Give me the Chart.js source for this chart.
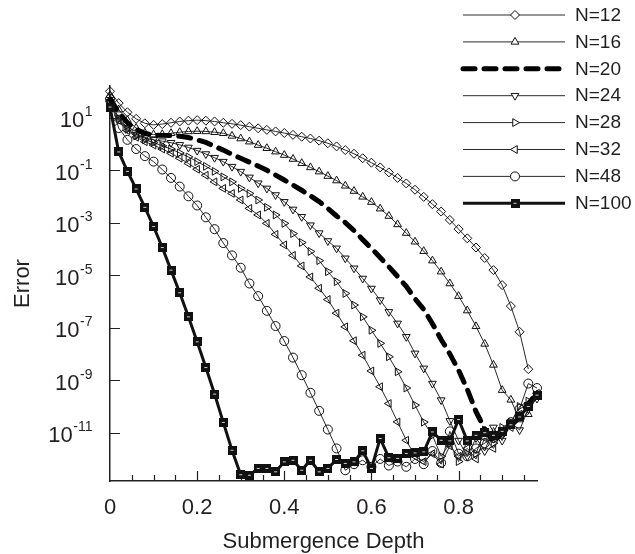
<!DOCTYPE html>
<html><head><meta charset="utf-8">
<script src="https://cdn.jsdelivr.net/npm/chart.js@4.4.1/dist/chart.umd.min.js"></script>
<style>html,body{margin:0;padding:0;background:#fff;}#wrap{width:635px;height:554px;}</style>
</head><body><div id="wrap"><canvas id="c" width="635" height="554"></canvas></div>
<script>
// Submergence depth (x) sample positions
const depth = [0,0.02,0.04,0.06,0.08,0.1,0.12,0.14,0.16,0.18,0.2,0.22,0.24,0.26,0.28,0.3,0.32,0.34,0.36,0.38,0.4,0.42,0.44,0.46,0.48,0.5,0.52,0.54,0.56,0.58,0.6,0.62,0.64,0.66,0.68,0.7,0.72,0.74,0.76,0.78,0.8,0.82,0.84,0.86,0.88,0.9,0.92,0.94,0.96,0.98];
// log10(Error) for each series
const logErrN12 = [2.0,1.55,1.2,0.95,0.78,0.72,0.75,0.8,0.85,0.88,0.9,0.88,0.85,0.8,0.76,0.71,0.65,0.59,0.53,0.47,0.41,0.34,0.27,0.2,0.12,0.02,-0.1,-0.24,-0.38,-0.55,-0.72,-0.9,-1.09,-1.3,-1.51,-1.75,-2.02,-2.3,-2.58,-2.9,-3.25,-3.6,-3.95,-4.35,-4.81,-5.38,-6.18,-7.16,-8.58];
const logErrN16 = [1.85,1.3,0.9,0.6,0.42,0.35,0.36,0.4,0.44,0.47,0.48,0.47,0.44,0.4,0.3,0.2,0.08,-0.05,-0.17,-0.3,-0.43,-0.58,-0.74,-0.9,-1.06,-1.23,-1.4,-1.6,-1.8,-2.02,-2.22,-2.47,-2.75,-3.07,-3.4,-3.73,-4.09,-4.45,-4.87,-5.32,-5.8,-6.35,-6.95,-7.62,-8.42,-9.38,-9.75,-10.5,-10.3,-9.55];
const logErrN20 = [1.7,1.2,0.8,0.55,0.4,0.33,0.32,0.31,0.29,0.24,0.15,0.05,-0.1,-0.24,-0.4,-0.55,-0.7,-0.85,-1.01,-1.19,-1.38,-1.57,-1.77,-1.98,-2.2,-2.46,-2.75,-3.0,-3.3,-3.65,-3.98,-4.33,-4.68,-5.05,-5.43,-5.9,-6.3,-6.85,-7.45,-8.0,-8.62,-9.35,-10.2,-10.85,-11.35,-11.0,-10.75,-10.4,-9.9,-9.5];
const logErrN24 = [1.6,1.0,0.6,0.35,0.22,0.15,0.1,0.04,-0.04,-0.14,-0.26,-0.39,-0.53,-0.68,-0.87,-1.06,-1.28,-1.5,-1.7,-1.95,-2.21,-2.5,-2.78,-3.1,-3.4,-3.7,-3.98,-4.36,-4.74,-5.13,-5.51,-5.95,-6.4,-6.84,-7.35,-7.98,-8.55,-9.13,-9.76,-10.55,-11.3,-11.9,-11.2,-11.7,-10.8,-11.3,-10.6,-10.9,-10.1,-9.7];
const logErrN28 = [1.5,0.95,0.55,0.3,0.15,0.05,-0.08,-0.2,-0.35,-0.5,-0.68,-0.86,-1.05,-1.26,-1.45,-1.7,-1.89,-2.14,-2.42,-2.71,-3.03,-3.42,-3.76,-4.1,-4.45,-4.87,-5.25,-5.7,-6.14,-6.59,-7.1,-7.6,-8.11,-8.68,-9.3,-9.95,-10.6,-11.1,-11.9,-11.4,-12.1,-11.3,-11.8,-10.9,-11.4,-10.8,-10.6,-10.0,-9.8,-9.6];
const logErrN32 = [1.6,0.9,0.5,0.25,0.08,-0.05,-0.2,-0.36,-0.55,-0.75,-0.97,-1.2,-1.45,-1.7,-1.89,-2.14,-2.46,-2.71,-3.03,-3.45,-3.85,-4.25,-4.65,-5.07,-5.5,-5.93,-6.45,-6.97,-7.5,-8.05,-8.65,-9.25,-9.89,-10.59,-11.29,-11.9,-12.1,-11.8,-12.2,-11.5,-11.9,-11.6,-12.0,-11.2,-11.6,-11.0,-10.8,-10.3,-10.0,-9.5];
const logErrN48 = [1.7,0.6,0.15,-0.2,-0.47,-0.68,-0.98,-1.3,-1.63,-2.0,-2.35,-2.8,-3.25,-3.78,-4.25,-4.72,-5.32,-5.8,-6.36,-6.94,-7.51,-8.14,-8.81,-9.48,-10.17,-10.88,-11.6,-12.43,-12.2,-12.05,-12.3,-12.0,-12.25,-12.1,-12.3,-12.0,-12.2,-11.7,-12.15,-10.95,-11.8,-11.9,-11.6,-11.4,-11.2,-11.0,-10.6,-10.1,-9.13,-9.3];
const logErrN100 = [1.4,-0.31,-1.05,-1.72,-2.42,-3.15,-3.95,-4.81,-5.67,-6.59,-7.54,-8.52,-9.53,-10.61,-11.67,-12.6,-12.62,-12.36,-12.36,-12.49,-12.11,-12.05,-12.43,-12.05,-12.49,-12.36,-12.02,-12.17,-12.11,-11.69,-12.36,-11.22,-11.95,-11.98,-11.79,-11.77,-11.73,-10.97,-11.29,-11.31,-10.5,-11.31,-11.1,-11.0,-11.1,-10.95,-10.7,-10.4,-10.0,-9.57];

const seriesNames = ['N=12','N=16','N=20','N=24','N=28','N=32','N=48','N=100'];
const xLabelTicks = [0,0.2,0.4,0.6,0.8];
const xMinorTicks = [0.05,0.1,0.15,0.25,0.3,0.35,0.45,0.5,0.55,0.65,0.7,0.75,0.85,0.9,0.95];
const yTickExponents = [1,-1,-3,-5,-7,-9,-11];
const xTitle = 'Submergence Depth';
const yTitle = 'Error';

const FONT = "'Liberation Sans', Arial, Helvetica, sans-serif";
const INK = '#231f20';
const LINE = '#2a2a2a';

function toPoints(logs){ return logs.map((l,i)=>({x: depth[i], y: Math.pow(10,l)})); }

// filled square marker for N=100
const sq = document.createElement('canvas');
sq.width = 9; sq.height = 9;
(function(){ const g = sq.getContext('2d'); g.fillStyle = '#111'; g.fillRect(0,0,9,9); g.fillStyle = '#cfcfcf'; g.fillRect(3,4,3,1); })();

const thin = {borderColor: LINE, borderWidth: 1, pointBorderColor: '#111', pointBackgroundColor: 'rgba(255,255,255,0)', pointBorderWidth: 1, pointRadius: 4.5};
const datasets = [
  Object.assign({}, thin, {label: seriesNames[0], data: toPoints(logErrN12), pointStyle: 'rectRot', pointRotation: 0, order: 8}),
  Object.assign({}, thin, {label: seriesNames[1], data: toPoints(logErrN16), pointStyle: 'triangle', pointRotation: 0, order: 7}),
  {label: seriesNames[2], data: toPoints(logErrN20), borderColor: '#000', borderWidth: 5, borderDash: [12, 9], borderCapStyle: 'round', pointRadius: 0, order: 2},
  Object.assign({}, thin, {label: seriesNames[3], data: toPoints(logErrN24), pointStyle: 'triangle', pointRotation: 180, order: 6}),
  Object.assign({}, thin, {label: seriesNames[4], data: toPoints(logErrN28), pointStyle: 'triangle', pointRotation: 90, order: 5}),
  Object.assign({}, thin, {label: seriesNames[5], data: toPoints(logErrN32), pointStyle: 'triangle', pointRotation: 270, order: 4}),
  Object.assign({}, thin, {label: seriesNames[6], data: toPoints(logErrN48), pointStyle: 'circle', pointRotation: 0, order: 3}),
  {label: seriesNames[7], data: toPoints(logErrN100), borderColor: '#111', borderWidth: 3, pointStyle: sq, pointRadius: 4.5, order: 1}
];
datasets.forEach(d => { d.tension = 0; d.clip = false; d.fill = false; });

function drawMarker(ctx, ds, x, y){
  const st = ds.pointStyle; const r = ds.pointRadius || 0;
  if (!r) return;
  if (st instanceof HTMLCanvasElement){ ctx.drawImage(st, x - st.width/2, y - st.height/2); return; }
  ctx.save();
  ctx.strokeStyle = ds.pointBorderColor; ctx.lineWidth = ds.pointBorderWidth; ctx.setLineDash([]);
  ctx.fillStyle = '#fff';
  ctx.beginPath();
  const rad = (ds.pointRotation || 0) * Math.PI / 180;
  if (st === 'circle'){ ctx.arc(x, y, r, 0, Math.PI*2); }
  else if (st === 'rectRot'){ ctx.moveTo(x - r, y); ctx.lineTo(x, y - r); ctx.lineTo(x + r, y); ctx.lineTo(x, y + r); ctx.closePath(); }
  else if (st === 'triangle'){
    let a = rad;
    ctx.moveTo(x + Math.sin(a)*r, y - Math.cos(a)*r);
    a += 2*Math.PI/3; ctx.lineTo(x + Math.sin(a)*r, y - Math.cos(a)*r);
    a += 2*Math.PI/3; ctx.lineTo(x + Math.sin(a)*r, y - Math.cos(a)*r);
    ctx.closePath();
  }
  ctx.fill(); ctx.stroke();
  ctx.restore();
}

const axisDecor = {
  id: 'axisDecor',
  beforeDatasetsDraw(chart){
    const {ctx, chartArea: a, scales: {x, y}} = chart;
    ctx.save();
    ctx.strokeStyle = INK; ctx.lineWidth = 1.2;
    ctx.beginPath();
    xMinorTicks.forEach(v => { const px = Math.round(x.getPixelForValue(v)) + 0.5; ctx.moveTo(px, a.bottom); ctx.lineTo(px, a.bottom - 6); });
    xLabelTicks.forEach(v => { if (v === 0) return; const px = Math.round(x.getPixelForValue(v)) + 0.5; ctx.moveTo(px, a.bottom); ctx.lineTo(px, a.bottom - 10); });
    yTickExponents.forEach(e => { const py = Math.round(y.getPixelForValue(Math.pow(10, e))) + 0.5; ctx.moveTo(a.left, py); ctx.lineTo(a.left + 10, py); });
    ctx.stroke();
    // y tick labels with superscript exponents
    ctx.fillStyle = INK;
    ctx.textBaseline = 'alphabetic';
    yTickExponents.forEach(e => {
      const py = y.getPixelForValue(Math.pow(10, e));
      const base = '10', exp = String(e);
      ctx.font = '22px ' + FONT; const wb = ctx.measureText(base).width;
      ctx.font = '14px ' + FONT; const we = ctx.measureText(exp).width;
      const x0 = 92 - wb - we;
      ctx.font = '22px ' + FONT; ctx.textAlign = 'left'; ctx.fillText(base, x0, py + 9.5);
      ctx.font = '14px ' + FONT; ctx.fillText(exp, x0 + wb + 0.5, py - 1.5);
    });
    ctx.restore();
  },
  afterDraw(chart){
    const ctx = chart.ctx;
    ctx.save();
    chart.data.datasets.forEach((ds, i) => {
      const yy = 15 + i * 26.9;
      ctx.strokeStyle = ds.borderColor; ctx.lineWidth = ds.borderWidth;
      ctx.setLineDash(ds.borderDash || []); ctx.lineCap = ds.borderCapStyle || 'butt';
      ctx.beginPath(); ctx.moveTo(463, yy); ctx.lineTo(565, yy); ctx.stroke();
      ctx.setLineDash([]); ctx.lineCap = 'butt';
      drawMarker(ctx, ds, 515, yy);
      ctx.fillStyle = INK; ctx.font = '19px ' + FONT; ctx.textAlign = 'left'; ctx.textBaseline = 'middle';
      ctx.fillText(ds.label, 575, yy + 0.5);
    });
    ctx.restore();
  }
};

new Chart(document.getElementById('c'), {
  type: 'line',
  data: {datasets},
  plugins: [axisDecor],
  options: {
    responsive: false, animation: false, devicePixelRatio: 1,
    layout: {padding: {left: 0, right: 98, top: 86, bottom: 0}},
    plugins: {legend: {display: false}, tooltip: {enabled: false}},
    elements: {line: {tension: 0}},
    scales: {
      x: {
        type: 'linear', min: 0, max: 0.98,
        afterBuildTicks: s => { s.ticks = xLabelTicks.map(v => ({value: v})); },
        afterFit: s => { s.height = 73; },
        grid: {display: false, drawTicks: false},
        border: {display: true, color: INK, width: 1.5},
        ticks: {font: {family: FONT, size: 22}, color: INK, padding: 14, maxRotation: 0, autoSkip: false, callback: v => String(v)},
        title: {display: true, text: xTitle, font: {family: FONT, size: 22, lineHeight: 1.1}, color: INK, padding: {top: 0, bottom: 0}}
      },
      y: {
        type: 'logarithmic', min: Math.pow(10, -12.84), max: Math.pow(10, 2.2),
        afterFit: s => { s.width = 110; },
        grid: {display: false, drawTicks: false},
        border: {display: true, color: INK, width: 1.5},
        ticks: {display: false},
        title: {display: true, text: yTitle, font: {family: FONT, size: 22}, color: INK, padding: {top: 10, bottom: 0}}
      }
    }
  }
});
</script></body></html>
